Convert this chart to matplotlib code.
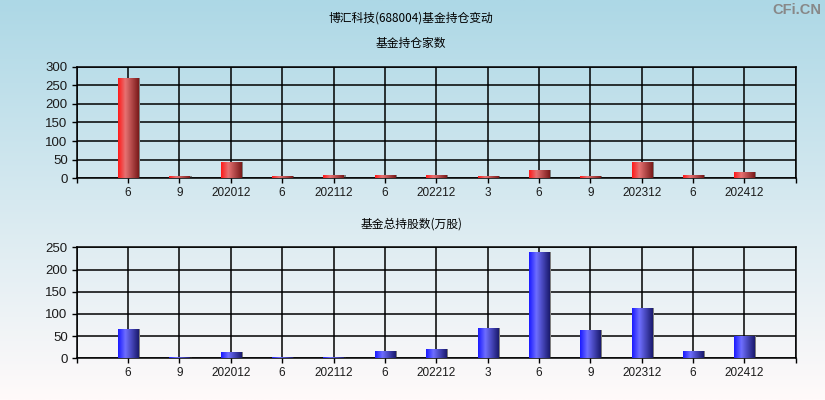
import numpy as np
import matplotlib
matplotlib.use("Agg")
import matplotlib.pyplot as plt
from matplotlib.colors import LinearSegmentedColormap
import matplotlib.patheffects as pe

plt.rcParams['font.family'] = ['Liberation Sans', 'Noto Sans CJK SC', 'DejaVu Sans']

# ---- data ----
categories = ['6', '9', '202012', '6', '202112', '6', '202212', '3', '6', '9', '202312', '6', '202412']
fund_counts = [270, 6, 44, 6, 9, 9, 9, 6, 22, 6, 44, 9, 17]
fund_shares = [66, 3, 14, 3, 3, 16.5, 21, 68, 239, 64, 113, 16.5, 50]
main_title = '博汇科技(688004)基金持仓变动'
title_top = '基金持仓家数'
title_bottom = '基金总持股数(万股)'
count_ticks = [0, 50, 100, 150, 200, 250, 300]
share_ticks = [0, 50, 100, 150, 200, 250]

W, H = 825, 400
fig = plt.figure(figsize=(W / 100, H / 100), dpi=100)

# background gradient
bg = fig.add_axes([0, 0, 1, 1], zorder=-10)
top_c = np.array([173, 216, 230]) / 255
bot_c = np.array([255, 250, 250]) / 255
t = np.linspace(0, 1, 256)[:, None]
grad = top_c[None, :] * (1 - t) + bot_c[None, :] * t
bg.imshow(grad[:, None, :].repeat(2, axis=1), aspect='auto', extent=[0, 1, 0, 1])
bg.set_axis_off()

red_cmap = LinearSegmentedColormap.from_list('r', [(0.0, '#ff1a1a'), (0.35, '#e67272'), (1.0, '#7a1a1a')])
blue_cmap = LinearSegmentedColormap.from_list('b', [(0.0, '#1a1aff'), (0.35, '#6e6eff'), (1.0, '#1a1a6e')])


def draw_panel(rect, values, ticks, cmap, subtitle, sub_y):
    ax = fig.add_axes(rect)
    ax.set_facecolor('none')
    x = np.arange(len(categories))
    bars = ax.bar(x, values, width=0.39, color='#808080', zorder=2.5,
                  path_effects=[pe.SimplePatchShadow(offset=(1.5, 0), shadow_rgbFace='#7f7f7f', alpha=1.0), pe.Normal()])
    g = np.linspace(0, 1, 64)[None, :]
    for b in bars:
        bx, bw, bh = b.get_x(), b.get_width(), b.get_height()
        im = ax.imshow(g, extent=[bx, bx + bw, 0, bh], aspect='auto', cmap=cmap, zorder=3,
                       interpolation='bilinear')
        im.set_clip_path(b)
    ax.set_xlim(-1, len(categories))
    ax.set_ylim(ticks[0], ticks[-1])
    ax.set_xticks(list(range(-1, len(categories) + 1)))
    ax.set_xticklabels([''] + categories + [''], fontsize=8.5, color='#1a1a1a')
    ax.set_yticks(ticks)
    ax.set_yticklabels([str(v) for v in ticks], fontsize=9.5, color='#1a1a1a')
    ax.tick_params(axis='both', length=3.5, width=1.0, color='black', pad=3)
    ax.grid(True, color='black', linewidth=1.1, zorder=1)
    ax.set_axisbelow(True)
    for s in ax.spines.values():
        s.set_color('black')
        s.set_linewidth(1.1)
    fig.text(0.4985, sub_y, subtitle, ha='center', va='center', fontsize=8.5,
             family=['Noto Sans CJK SC', 'DejaVu Sans'], color='black')
    return ax


draw_panel([0.093, 0.55425, 0.8715, 0.279], fund_counts, count_ticks, red_cmap, title_top, 0.8925)
draw_panel([0.093, 0.10425, 0.8715, 0.2775], fund_shares, share_ticks, blue_cmap, title_bottom, 0.44)

fig.text(0.4985, 0.955, main_title, ha='center', va='center', fontsize=8.5,
         family=['Noto Sans CJK SC', 'DejaVu Sans'], color='black')
fig.text(0.996, 0.975, 'CFi.CN', ha='right', va='center', fontsize=10.5, fontweight='bold',
         color='#888888', family=['Liberation Sans', 'DejaVu Sans'])

fig.savefig('out.png', dpi=100)
